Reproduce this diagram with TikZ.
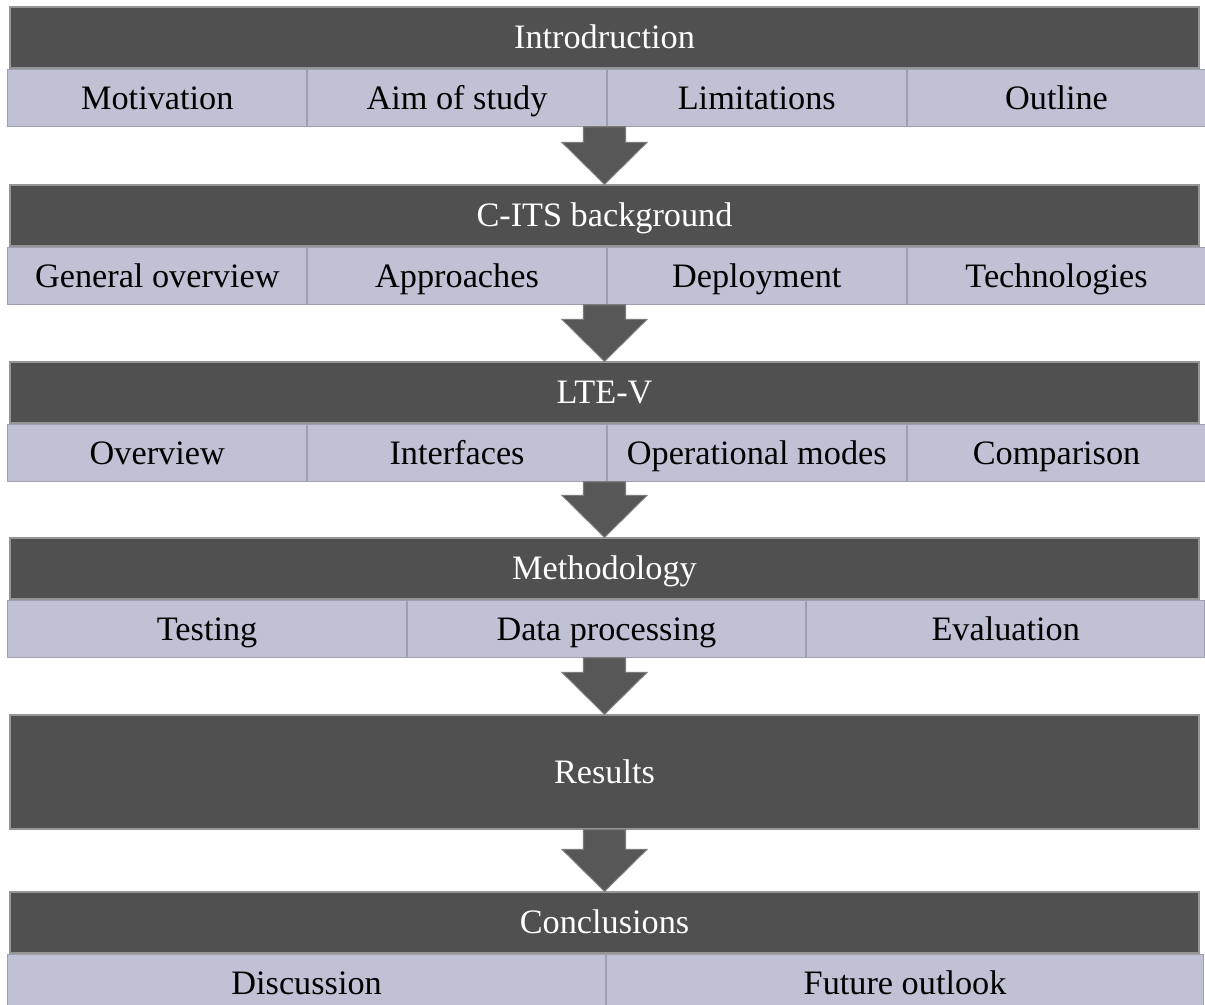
\documentclass[tikz,border=0pt]{standalone}
\usepackage{fontspec}
\setmainfont{Liberation Serif}
\usepackage{tikz}
\usetikzlibrary{positioning,calc}

\definecolor{darkbar}{HTML}{505050}
\definecolor{barrim}{HTML}{959595}
\definecolor{subfill}{HTML}{C0C1D4}
\definecolor{subrim}{HTML}{9E9FB3}
\definecolor{arrowgray}{HTML}{575757}
\definecolor{arrowrim}{HTML}{7C7C7C}

% block arrow from a start point down to a tip point
\newcommand\blockarrow[2]{%
  \path[downarrow] let \p1=#1, \p2=#2 in
    (\x1-0.42cm,\y1) -- (\x1+0.42cm,\y1) -- (\x1+0.42cm,\y2+0.84cm)
    -- (\x1+0.85cm,\y2+0.84cm) -- (\x1,\y2) -- (\x1-0.85cm,\y2+0.84cm)
    -- (\x1-0.42cm,\y2+0.84cm) -- cycle;}

\begin{document}
\begin{tikzpicture}[x=0.02cm,y=-0.02cm,
  every node/.style={font=\fontsize{19.5}{23}\selectfont,inner sep=0pt,
    text height=14pt,text depth=1pt},
  header/.style={fill=darkbar,draw=barrim,line width=0.8pt,text=white,
    minimum width=23.78cm,minimum height=1.22cm},
  sub/.style={fill=subfill,draw=subrim,line width=0.6pt,text=black,
    minimum height=1.14cm},
  four/.style={sub,minimum width=5.975cm},
  three/.style={sub,minimum width=7.967cm},
  two/.style={sub,minimum width=11.95cm},
  downarrow/.style={fill=arrowgray,draw=arrowrim,line width=0.6pt,line join=miter}]
  \useasboundingbox[fill=white] (0,0) rectangle (1205,1005);

  % section bars
  \node[header] (intro) at (604.5,37.5) {Introdruction};
  \node[header] (cits) at (604.5,215.5) {C-ITS background};
  \node[header] (ltev) at (604.5,392.5) {LTE-V};
  \node[header] (meth) at (604.5,568.5) {Methodology};
  \node[header,minimum height=2.28cm] (res) at (604.5,772) {Results};
  \node[header] (concl) at (604.5,922.5) {Conclusions};

  % sub topics
  \node[four,below=0pt of intro.south west,anchor=north west,xshift=-0.04cm] (mot) {Motivation};
  \node[four,right=0pt of mot] (aim) {Aim of study};
  \node[four,right=0pt of aim] (lim) {Limitations};
  \node[four,right=0pt of lim] (outl) {Outline};

  \node[four,below=0pt of cits.south west,anchor=north west,xshift=-0.04cm] (gen) {General overview};
  \node[four,right=0pt of gen] (appr) {Approaches};
  \node[four,right=0pt of appr] (depl) {Deployment};
  \node[four,right=0pt of depl] (tech) {Technologies};

  \node[four,below=0pt of ltev.south west,anchor=north west,xshift=-0.04cm] (over) {Overview};
  \node[four,right=0pt of over] (intf) {Interfaces};
  \node[four,right=0pt of intf] (opm) {Operational modes};
  \node[four,right=0pt of opm] (comp) {Comparison};

  \node[three,below=0pt of meth.south west,anchor=north west,xshift=-0.04cm] (test) {Testing};
  \node[three,right=0pt of test] (dproc) {Data processing};
  \node[three,right=0pt of dproc] (eval) {Evaluation};

  \node[two,below=0pt of concl.south west,anchor=north west,xshift=-0.04cm] (disc) {Discussion};
  \node[two,right=0pt of disc] (fut) {Future outlook};

  % arrows between sections
  \blockarrow{(intro.center |- aim.south)}{(cits.north)}
  \blockarrow{(cits.center |- appr.south)}{(ltev.north)}
  \blockarrow{(ltev.center |- intf.south)}{(meth.north)}
  \blockarrow{(meth.center |- dproc.south)}{(res.north)}
  \blockarrow{(res.south)}{(concl.north)}
\end{tikzpicture}
\end{document}
